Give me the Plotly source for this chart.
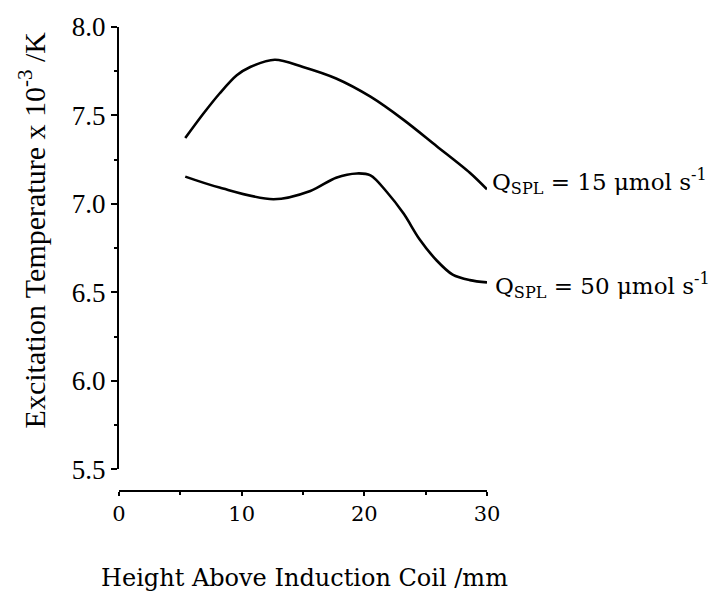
import plotly.graph_objects as go

# Data
x_q15 = [5.4, 6.9, 8.2, 9.6, 10.7, 12.7, 15.0, 17.7, 20.5, 23.2, 25.9, 28.6, 30.0]
y_q15 = [7.372, 7.512, 7.624, 7.727, 7.774, 7.815, 7.774, 7.709, 7.606, 7.475, 7.326, 7.176, 7.082]

x_q50 = [5.4, 8.2, 12.6, 15.6, 17.7, 19.4, 20.5, 21.8, 23.2, 24.5, 25.9, 27.2, 28.6, 30.0]
y_q50 = [7.154, 7.092, 7.026, 7.073, 7.148, 7.172, 7.161, 7.070, 6.945, 6.800, 6.680, 6.600, 6.569, 6.556]

label_q15 = "Q<sub>SPL</sub> = 15 μmol s<sup>-1</sup>"
label_q50 = "Q<sub>SPL</sub> = 50 μmol s<sup>-1</sup>"

x_ticks = [0, 10, 20, 30]
y_ticks = [5.5, 6.0, 6.5, 7.0, 7.5, 8.0]

x_title = "Height Above Induction Coil /mm"
y_title = "Excitation Temperature x 10<sup>-3</sup> /K"

fig = go.Figure()
for xs, ys in [(x_q15, y_q15), (x_q50, y_q50)]:
    fig.add_trace(go.Scatter(x=xs, y=ys, mode="lines",
                             line=dict(color="black", width=2.6, shape="spline", smoothing=0.9),
                             cliponaxis=False, showlegend=False, hoverinfo="skip"))

fig.update_layout(
    width=723, height=596,
    margin=dict(l=119, r=236, t=23, b=105),
    paper_bgcolor="white", plot_bgcolor="white",
    font=dict(family="Liberation Serif", color="black"),
    showlegend=False,
    xaxis=dict(range=[0, 30], tickvals=x_ticks, ticktext=[str(v) for v in x_ticks],
               showgrid=False, zeroline=False, showline=True, linecolor="black", linewidth=2,
               ticks="outside", ticklen=4, tickwidth=2, tickcolor="black",
               minor=dict(dtick=5, ticks="outside", ticklen=3, tickwidth=1.5, tickcolor="black"),
               anchor="free", position=0,
               tickfont=dict(family="DejaVu Serif", size=21, color="black")),
    yaxis=dict(range=[5.5, 8.0], domain=[0.047, 1], tickvals=y_ticks,
               ticktext=["%.1f" % v for v in y_ticks],
               showgrid=False, zeroline=False, showline=True, linecolor="black", linewidth=2,
               ticks="outside", ticklen=6, tickwidth=2, tickcolor="black",
               minor=dict(dtick=0.25, ticks="outside", ticklen=3, tickwidth=1.5, tickcolor="black"),
               tickfont=dict(family="Liberation Serif", size=27, color="black")),
)

fig.add_annotation(x=1.008, y=0.667, xref="paper", yref="paper", text=label_q15, showarrow=False,
                   xanchor="left", yanchor="middle",
                   font=dict(family="DejaVu Serif", size=23, color="black"))
fig.add_annotation(x=1.016, y=0.442, xref="paper", yref="paper", text=label_q50, showarrow=False,
                   xanchor="left", yanchor="middle",
                   font=dict(family="DejaVu Serif", size=23, color="black"))

fig.add_annotation(x=-0.236, y=0.562, xref="paper", yref="paper", text=y_title, showarrow=False,
                   textangle=-90, xanchor="center", yanchor="middle",
                   font=dict(family="Liberation Serif", size=30, color="black"))
fig.add_annotation(x=0.505, y=-0.188, xref="paper", yref="paper", text=x_title, showarrow=False,
                   xanchor="center", yanchor="middle",
                   font=dict(family="DejaVu Serif", size=24, color="black"))

fig.write_html("out.html")
